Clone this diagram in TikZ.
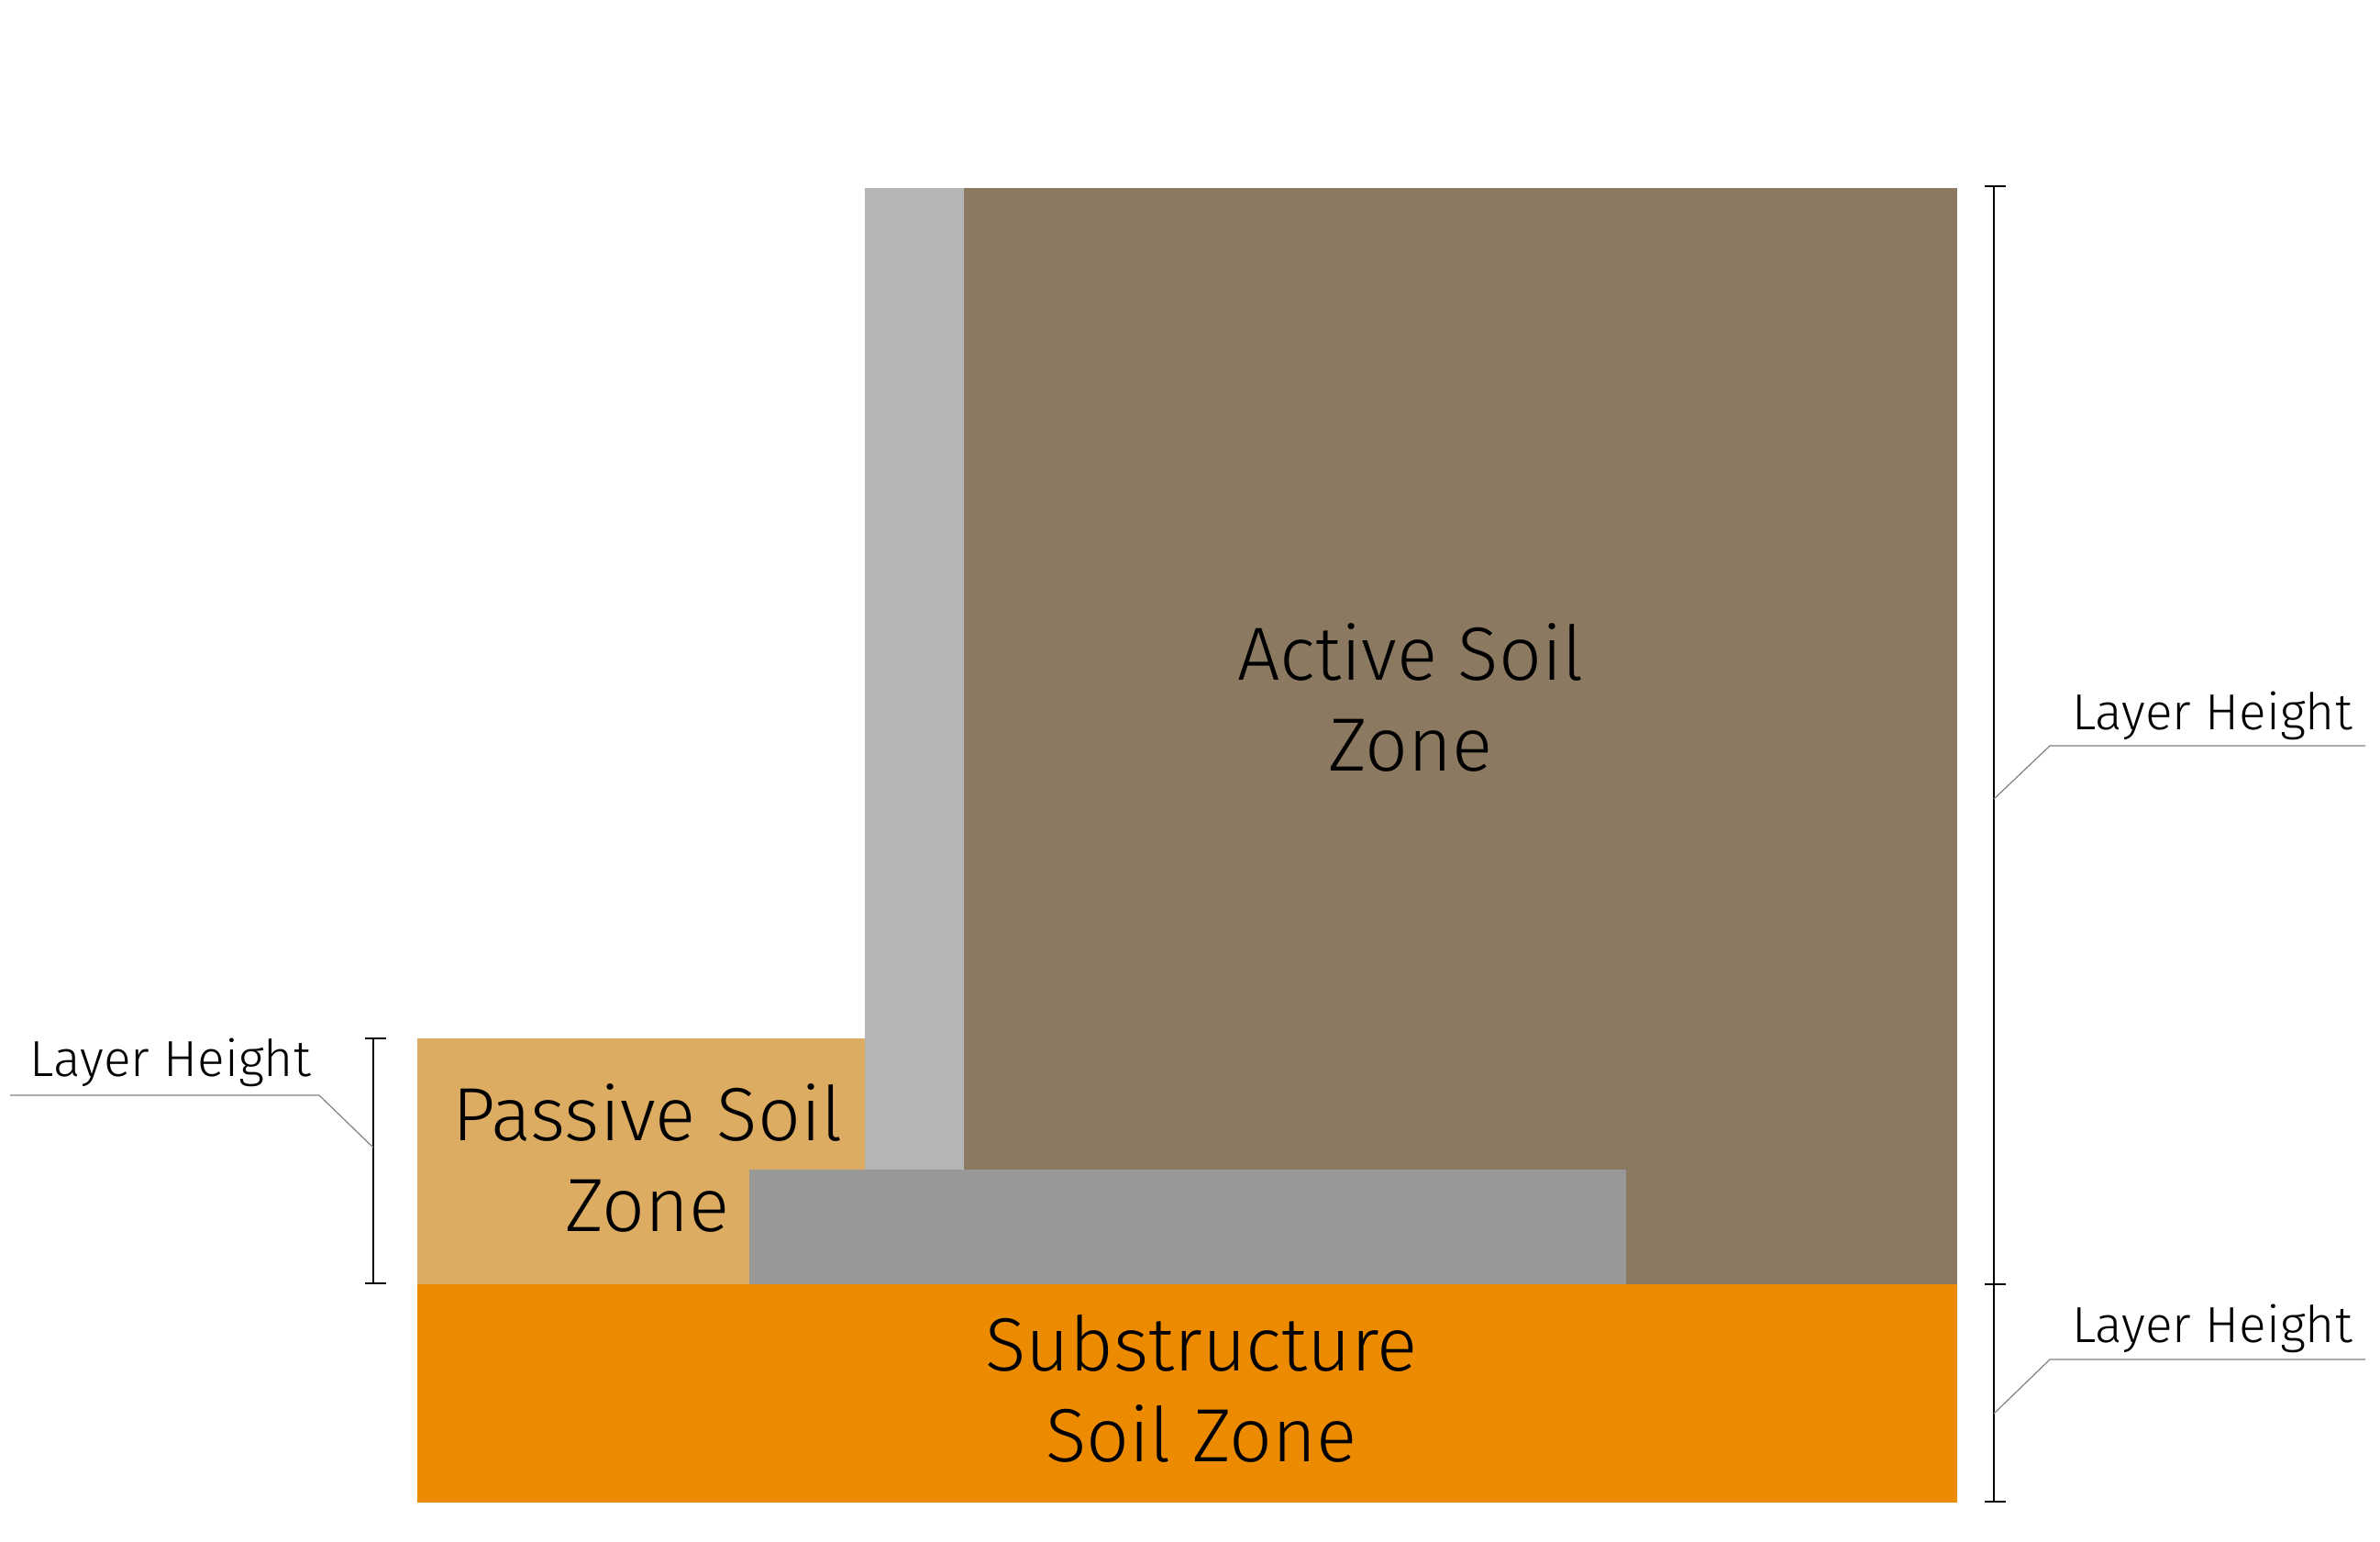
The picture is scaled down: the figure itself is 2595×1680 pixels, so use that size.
\documentclass[tikz,border=0pt]{standalone}
\usepackage{fontspec}
\setmainfont{Fira Sans Light}
\definecolor{wallc}{HTML}{B5B5B5}
\definecolor{activec}{HTML}{8C7961}
\definecolor{footc}{HTML}{989898}
\definecolor{passc}{HTML}{DCAC62}
\definecolor{subc}{HTML}{EC8B00}
\definecolor{leadc}{HTML}{808080}
\tikzset{
  zonetext/.style={anchor=base, inner sep=0pt, font=\fontsize{23.4pt}{28pt}\selectfont, text=black},
  dimtext/.style={anchor=base, inner sep=0pt, font=\fontsize{15.7pt}{19pt}\selectfont, text=black},
  dimline/.style={draw=black, line width=0.15mm},
  leadline/.style={draw=leadc, line width=0.12mm},
}
\begin{document}
\begin{tikzpicture}[x=0.1mm, y=-0.1mm]
\useasboundingbox (0,0) rectangle (2595,1680);
% zones
\fill[subc] (455,1400) rectangle (2134,1638);
\fill[passc] (455,1132) rectangle (943,1400);
\fill[activec] (1051,205) rectangle (2134,1400);
\fill[wallc] (943,205) rectangle (1051,1275);
\fill[footc] (817,1275) rectangle (1773,1400);
% zone labels
\node[zonetext] (act1) at (1538,741) {Active Soil};
\node[zonetext] (act2) at (1538,840) {Zone};
\node[zonetext] (pas1) at (706,1243) {Passive Soil};
\node[zonetext] (pas2) at (706,1342) {Zone};
\node[zonetext] (sub1) at (1310,1494) {Substructure};
\node[zonetext] (sub2) at (1310,1593) {Soil Zone};
% right dimension
\coordinate (rt) at (2174,203);
\coordinate (rm) at (2174,1400);
\coordinate (rb) at (2174,1637);
\draw[dimline] (rt) -- (rb);
\draw[dimline] ([xshift=-1mm]rt) -- ([xshift=1.3mm]rt);
\draw[dimline] ([xshift=-1mm]rm) -- ([xshift=1.3mm]rm);
\draw[dimline] ([xshift=-1mm]rb) -- ([xshift=1.3mm]rb);
% left dimension
\coordinate (lt) at (407,1132);
\coordinate (lb) at (407,1399);
\draw[dimline] (lt) -- (lb);
\draw[dimline] ([xshift=-0.9mm]lt) -- ([xshift=1.4mm]lt);
\draw[dimline] ([xshift=-0.9mm]lb) -- ([xshift=1.4mm]lb);
% leaders
\coordinate (l1a) at (2174,871); \coordinate (l1b) at (2235,813); \coordinate (l1c) at (2579,813);
\coordinate (l2a) at (2174,1541); \coordinate (l2b) at (2235,1482); \coordinate (l2c) at (2579,1482);
\coordinate (l3a) at (407,1251); \coordinate (l3b) at (348,1194); \coordinate (l3c) at (11,1194);
\draw[leadline] (l1a) -- (l1b) -- (l1c);
\draw[leadline] (l2a) -- (l2b) -- (l2c);
\draw[leadline] (l3a) -- (l3b) -- (l3c);
\node[dimtext] (lh1) at (2412,795) {Layer Height};
\node[dimtext] (lh2) at (2412,1463) {Layer Height};
\node[dimtext] (lh3) at (186,1173) {Layer Height};
\end{tikzpicture}
\end{document}
